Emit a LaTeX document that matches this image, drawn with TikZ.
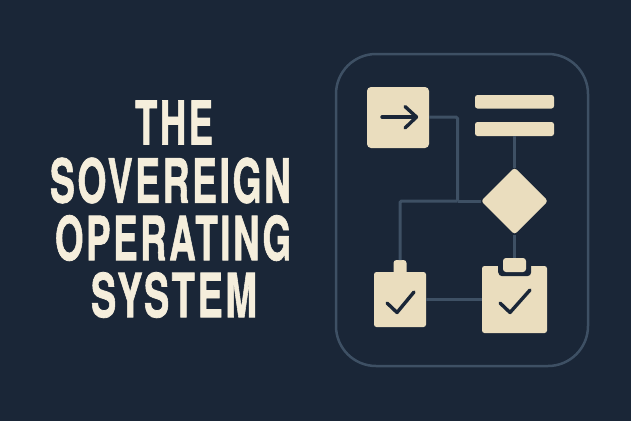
\documentclass[tikz,border=0pt]{standalone}
\usepackage{fontspec}
\setmainfont{TeX Gyre Heros}[BoldFeatures={FakeBold=1.4,LetterSpace=7}]
\usetikzlibrary{shapes.geometric}
\definecolor{bgc}{HTML}{1A2637}
\definecolor{linec}{HTML}{3E5064}
\definecolor{creamc}{HTML}{EADDBE}
\definecolor{textc}{HTML}{F5EEDC}
\definecolor{inkc}{HTML}{1A2637}
\tikzset{
  x=1pt,y=-1pt,
  titleline/.style={inner sep=0pt,outer sep=0pt,text=textc,font=\bfseries\fontsize{60}{60}\selectfont},
  creambox/.style={draw=none,fill=creamc,rounded corners=#1,inner sep=0pt,outer sep=0pt,anchor=north west},
  link/.style={draw=linec,line width=3pt,rounded corners=1.5pt},
  panelframe/.style={draw=linec,line width=2.5pt,rounded corners=40pt,fill=none,inner sep=0pt,outer sep=0pt,anchor=north west},
  glyph/.style={draw=inkc,line width=3.4pt,line cap=round,line join=round},
}
\begin{document}
\begin{tikzpicture}
\useasboundingbox[fill=bgc] (0,0) rectangle (631,421);
% title
\node[titleline] (t1) at (174,122.5) {\resizebox{78pt}{44pt}{THE}};
\node[titleline] (t2) at (170.5,180.5) {\resizebox{241pt}{45pt}{SOVEREIGN}};
\node[titleline] (t3) at (173,238) {\resizebox{236pt}{45pt}{OPERATING}};
\node[titleline] (t4) at (174,295) {\resizebox{166pt}{45pt}{SYSTEM}};
% frame
\node[panelframe,minimum width=252pt,minimum height=312pt] (panel) at (336,54) {};
% shapes
\node[creambox=4pt,minimum width=62pt,minimum height=61pt] (start) at (367,87) {};
\node[creambox=2.5pt,minimum width=79pt,minimum height=13.5pt] (barA) at (475,95) {};
\node[creambox=2.5pt,minimum width=79pt,minimum height=14pt] (barB) at (475,122) {};
\node[diamond,fill=creamc,rounded corners=3pt,minimum width=67pt,minimum height=67pt,inner sep=0pt,outer sep=0pt] (decide) at (514.5,201) {};
\node[creambox=2.5pt,minimum width=52pt,minimum height=55pt] (smallclip) at (374,272) {};
\node[creambox=3pt,minimum width=13pt,minimum height=15pt] (smalltab) at (393.5,260) {};
\node[creambox=2.5pt,minimum width=65pt,minimum height=67pt] (bigclip) at (482,266) {};
\node[draw=none,fill=bgc,rounded corners=4pt,minimum width=33pt,minimum height=14pt,inner sep=0pt,anchor=north west] (clipgap) at (498,262) {};
\fill[bgc] (492,255) rectangle (537,266);
\node[creambox=3pt,minimum width=23pt,minimum height=14pt] (bigtab) at (503,258) {};
% connectors
\coordinate (join) at (457.5,201);
\draw[link] (start.east |- 0,117) -| (join);
\draw[link] (decide.west) -- (join);
\draw[link] (join) -- (400,201) -- (smalltab.north);
\draw[link] (barB.south) -- (decide.north);
\draw[link] (decide.south) -- (bigtab.north -| decide.south);
\draw[link] (smallclip.east |- 0,299) -- (bigclip.west |- 0,299);
% glyphs
\draw[glyph] (382,117) -- (416,117);
\draw[glyph] (405,106.5) -- (416.5,117) -- (405,128);
\draw[glyph] (387,303) -- (397,312.5) -- (414,292);
\draw[glyph] (500,303) -- (510,312.5) -- (530,290);
\end{tikzpicture}
\end{document}
